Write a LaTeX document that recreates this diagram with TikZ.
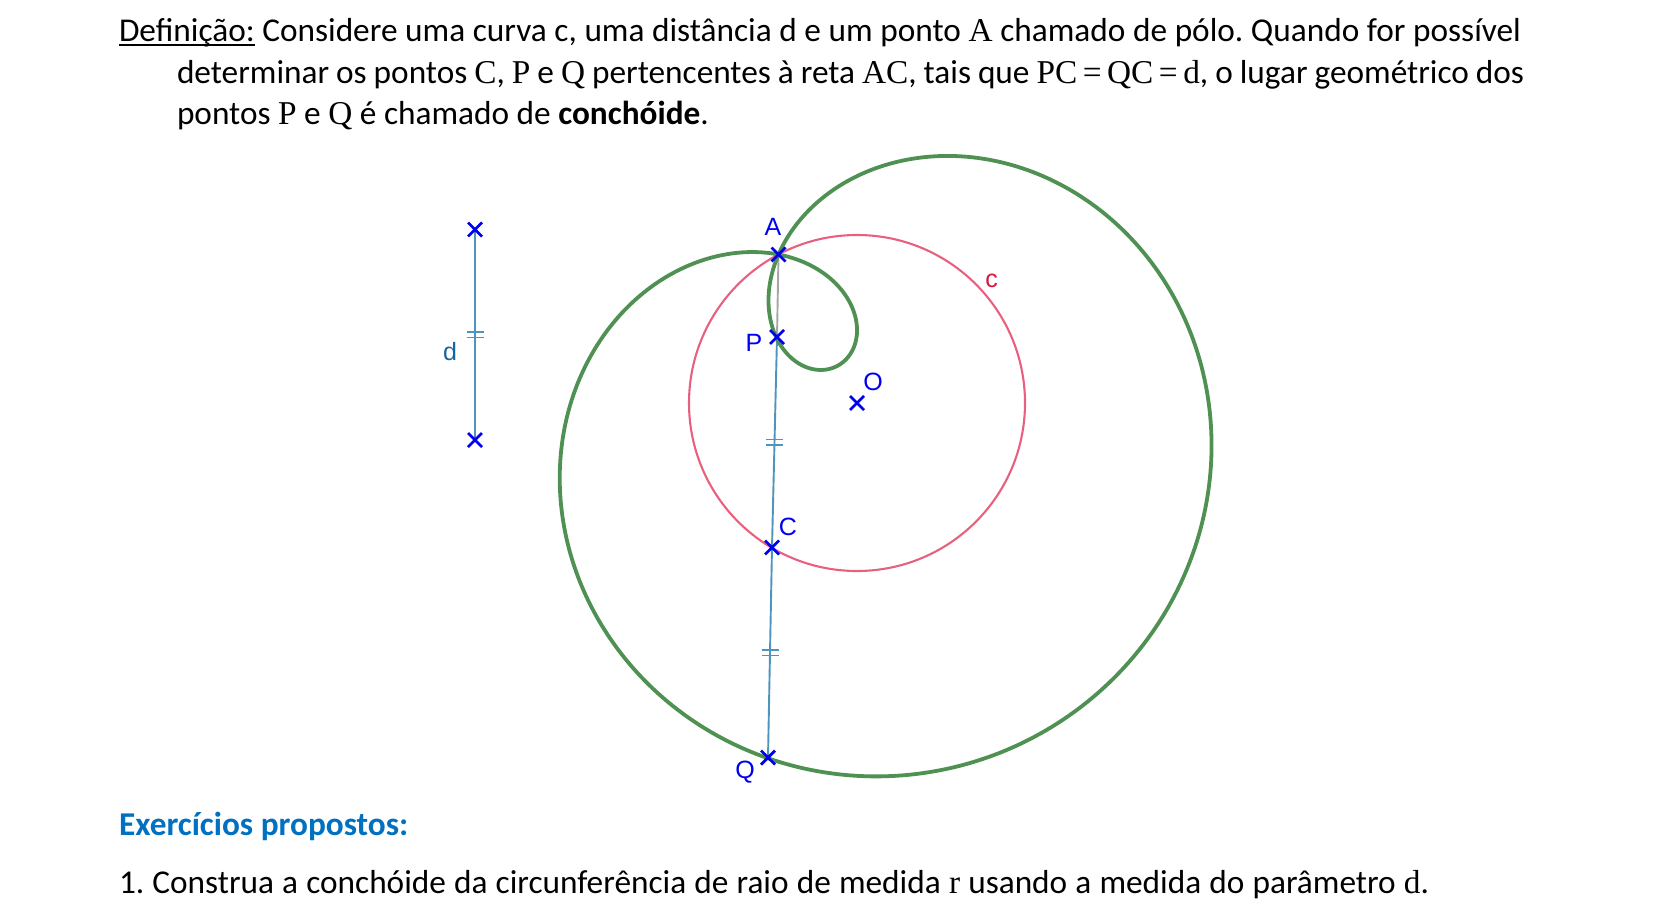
\documentclass[tikz,border=0pt]{standalone}
\usepackage{fontspec}
\usetikzlibrary{shapes.misc,calc,backgrounds}
\setmainfont{Carlito}
\newfontfamily\mth{Liberation Serif}
\newfontfamily\geo{Liberation Sans}
\newcommand{\mv}[1]{{\mth #1}}
\definecolor{conchgreen}{HTML}{4F9152}
\definecolor{circred}{HTML}{E9607F}
\definecolor{ptblue}{HTML}{0000F0}
\definecolor{seg}{HTML}{4F94BC}
\definecolor{dlab}{HTML}{1565A0}
\definecolor{head}{HTML}{0070C0}
\definecolor{clab}{HTML}{DC143C}
\tikzset{
 x=1pt,y=-1pt,
 txt/.style={anchor=base west,inner sep=0pt,outer sep=0pt,font=\fontsize{33.3}{40}\selectfont\frenchspacing,text=black},
 pt/.style={cross out,draw=ptblue,line width=2.8pt,minimum size=14pt,inner sep=0pt,outer sep=0pt},
 lab/.style={anchor=center,inner sep=0pt,font=\geo\fontsize{25}{28}\selectfont,text=ptblue},
 segline/.style={draw=seg,line width=1.9pt},
 ticks/.style={draw=seg,line width=1.6pt}
}
\begin{document}
\begin{tikzpicture}
\useasboundingbox (0,0) rectangle (1654,913);
% text
\node[txt] (l1) at (119,41) {\hbox to 1402pt{\rlap{\rule[-5pt]{136pt}{1.8pt}}Definição: Considere uma curva c, uma distância d e um ponto \mv{A} chamado de pólo. Quando for possível}};
\node[txt] (l2) at (177,83) {\hbox to 1347pt{determinar os pontos \mv{C}, \mv{P} e \mv{Q} pertencentes à reta \mv{AC}, tais que \mv{PC\,=\,QC\,=\,d}, o lugar geométrico dos}};
\node[txt] (l3) at (177,124) {pontos \mv{P} e \mv{Q} é chamado de \textbf{conchóide}.};
\node[txt,text=head] (ex) at (119,835) {\textbf{Exercícios propostos:}};
\node[txt] (it) at (119,893) {\hbox to 1310pt{1. Construa a conchóide da circunferência de raio de medida \mv{r} usando a medida do parâmetro \mv{d}.}};
% points
\node[pt] (A) at (778.5,254.5) {};
\node[pt] (P) at (777,337) {};
\node[pt] (C) at (772,547.5) {};
\node[pt] (Q) at (768,757.5) {};
\node[pt] (O) at (857,403) {};
\node[pt] (D1) at (475,229.5) {};
\node[pt] (D2) at (475,440) {};
\begin{scope}[on background layer]
% circle
\draw[circred,line width=2.1pt] (O.center) circle[radius=168];
% segments
\draw[draw=gray!70,line width=1.9pt] (A.center) -- (P.center);
\draw[segline] (P.center) -- (C.center);
\draw[segline] (C.center) -- (Q.center);
\draw[segline] (D1.center) -- (D2.center);
% ticks
\foreach \a/\b in {P/C,C/Q,D1/D2}{
 \draw[ticks] ($(\a.center)!0.5!(\b.center)+(-8.5,-2.8)$) -- ++(17,0);
 \draw[ticks] ($(\a.center)!0.5!(\b.center)+(-8.5,2.8)$) -- ++(17,0);
}
% conchoid
\draw[conchgreen,line width=3.8pt,line join=round]
 plot[domain=0:360,samples=360,smooth,variable=\t]
 ({778.5+(336*cos(\t)+210)*cos(62.2+\t)},{254.5+(336*cos(\t)+210)*sin(62.2+\t)}) -- cycle;
\end{scope}
% labels
\node[lab] (la) at (773,227) {A};
\node[lab] (lp) at (754,343) {P};
\node[lab] (lo) at (873,382) {O};
\node[lab] (lc) at (788,527) {C};
\node[lab] (lq) at (745,772) {Q};
\node[lab,text=clab] (lcc) at (991.5,280.5) {c};
\node[lab,text=dlab] (ld) at (450,352) {d};
\end{tikzpicture}
\end{document}
